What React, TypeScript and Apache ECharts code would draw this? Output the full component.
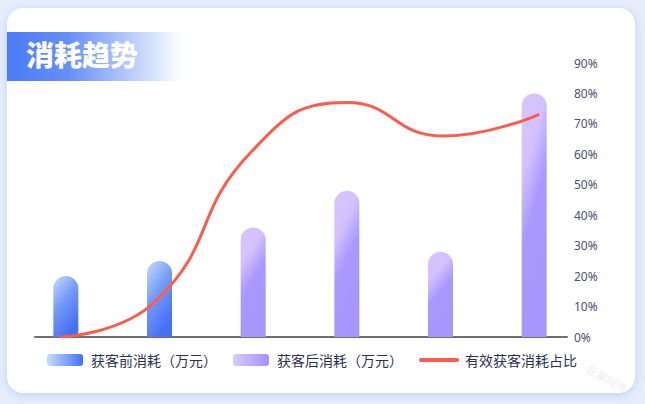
import React, { useEffect, useRef } from "react";
import * as echarts from "echarts";

const categories = ["第1期", "第2期", "第3期", "第4期", "第5期", "第6期"];
const beforeCost = [20, 25, null, null, null, null];
const afterCost = [null, null, 36, 48, 28, 80];
const effectiveRatio = [0, 12, 61, 77, 66, 73];
const seriesNames = ["获客前消耗（万元）", "获客后消耗（万元）", "有效获客消耗占比"];
const title = "消耗趋势";
const watermark = "巨量网络";

const FONT = "'Noto Sans', 'Noto Sans CJK SC', sans-serif";
const CJK = "'Noto Sans CJK SC', sans-serif";

export default function App() {
  const ref = useRef<HTMLDivElement>(null);
  useEffect(() => {
    if (!ref.current) return;
    const chart = echarts.init(ref.current, undefined, { renderer: "svg" });
    const blueGrad = new echarts.graphic.LinearGradient(0, 0, 0.5, 1, [
      { offset: 0, color: "#c8defb" },
      { offset: 0.5, color: "#7499f7" },
      { offset: 1, color: "#4670f5" },
    ]);
    const purpleGrad = new echarts.graphic.LinearGradient(0, 0, 0.35, 1, [
      { offset: 0, color: "#d8c6fe" },
      { offset: 0.32, color: "#d3c0fe" },
      { offset: 0.58, color: "#a998fd" },
      { offset: 1, color: "#a696fd" },
    ]);
    const gridTop = 63;
    const gridBottom = 67;
    chart.setOption({
      animation: false,
      textStyle: { fontFamily: FONT },
      grid: [
        { left: 19, right: 64, top: gridTop, bottom: gridBottom },
        { left: 61, right: 107, top: gridTop, bottom: gridBottom },
        { left: 35, right: 78, top: gridTop, bottom: gridBottom },
      ],
      xAxis: [
        { type: "category", gridIndex: 0, data: categories, show: false },
        { type: "category", gridIndex: 1, data: categories, boundaryGap: false, show: false },
        {
          type: "value",
          gridIndex: 2,
          min: 0,
          max: 1,
          axisLine: { show: true, lineStyle: { color: "#6f6f6f", width: 2 } },
          axisTick: { show: false },
          axisLabel: { show: false },
          splitLine: { show: false },
        },
      ],
      yAxis: [
        { type: "value", gridIndex: 0, min: 0, max: 90, show: false },
        {
          type: "value",
          gridIndex: 1,
          position: "right",
          min: 0,
          max: 90,
          interval: 10,
          axisLine: { show: false },
          axisTick: { show: false },
          splitLine: { show: false },
          axisLabel: {
            formatter: "{value}%",
            margin: 36,
            color: "#4b506e",
            fontSize: 12,
            fontFamily: FONT,
          },
        },
        { type: "value", gridIndex: 2, min: 0, max: 1, show: false },
      ],
      legend: {
        left: 47,
        top: 353,
        padding: 0,
        itemWidth: 36,
        itemHeight: 12,
        itemGap: 16,
        textStyle: { color: "#2c3152", fontSize: 14, fontFamily: CJK, padding: [0, 0, 0, 3] },
        data: [
          {
            name: seriesNames[0],
            icon: "roundRect",
            itemStyle: {
              color: new echarts.graphic.LinearGradient(0, 0, 1, 0, [
                { offset: 0, color: "#c6ddfb" },
                { offset: 1, color: "#4670f5" },
              ]),
            },
          },
          {
            name: seriesNames[1],
            icon: "roundRect",
            itemStyle: {
              color: new echarts.graphic.LinearGradient(0, 0, 1, 0, [
                { offset: 0, color: "#dacbfe" },
                { offset: 1, color: "#a292fc" },
              ]),
            },
          },
          { name: seriesNames[2], lineStyle: { width: 4 }, itemStyle: { opacity: 0 } },
        ],
      },
      graphic: [
        {
          type: "rect",
          left: 7,
          top: 32,
          shape: { width: 176, height: 49 },
          style: {
            fill: new echarts.graphic.LinearGradient(0, 0, 1, 0, [
              { offset: 0, color: "#4a7bf6" },
              { offset: 0.35, color: "#6690f7" },
              { offset: 0.7, color: "#b8ccfb" },
              { offset: 1, color: "#ffffff" },
            ]),
          },
          z: 10,
        },
        {
          type: "text",
          left: 26,
          top: 40,
          style: {
            text: title,
            fill: "#ffffff",
            fontSize: 28,
            fontWeight: 900,
            fontFamily: CJK,
          },
          z: 11,
        },
        {
          type: "text",
          x: 607,
          y: 378,
          rotation: -0.5,
          style: {
            text: watermark,
            fill: "rgba(170,170,190,0.22)",
            fontSize: 11,
            fontFamily: CJK,
            align: "center",
            verticalAlign: "middle",
          },
          z: 11,
        },
      ],
      series: [
        {
          name: seriesNames[0],
          type: "bar",
          xAxisIndex: 0,
          yAxisIndex: 0,
          stack: "cost",
          barWidth: 25,
          data: beforeCost,
          itemStyle: { color: blueGrad, borderRadius: [12.5, 12.5, 0, 0] },
        },
        {
          name: seriesNames[1],
          type: "bar",
          xAxisIndex: 0,
          yAxisIndex: 0,
          stack: "cost",
          barWidth: 25,
          data: afterCost,
          itemStyle: { color: purpleGrad, borderRadius: [12.5, 12.5, 0, 0] },
        },
        {
          name: seriesNames[2],
          type: "line",
          xAxisIndex: 1,
          yAxisIndex: 1,
          smooth: true,
          symbol: "none",
          data: effectiveRatio,
          lineStyle: { color: "#fd5c4c", width: 3, cap: "round" },
          itemStyle: { color: "#fd5c4c" },
          z: 5,
        },
      ],
    });
    return () => chart.dispose();
  }, []);

  return (
    <div
      style={{
        position: "fixed",
        left: 0,
        top: 0,
        width: 645,
        height: 404,
        background: "#e6eefc",
        overflow: "hidden",
      }}
    >
      <div
        style={{
          position: "absolute",
          left: 7,
          top: 8,
          width: 628,
          height: 385,
          borderRadius: 16,
          background: "#ffffff",
          boxShadow: "0 2px 10px rgba(140,175,235,0.45)",
        }}
      />
      <div ref={ref} style={{ position: "absolute", left: 0, top: 0, width: 645, height: 404 }} />
    </div>
  );
}
